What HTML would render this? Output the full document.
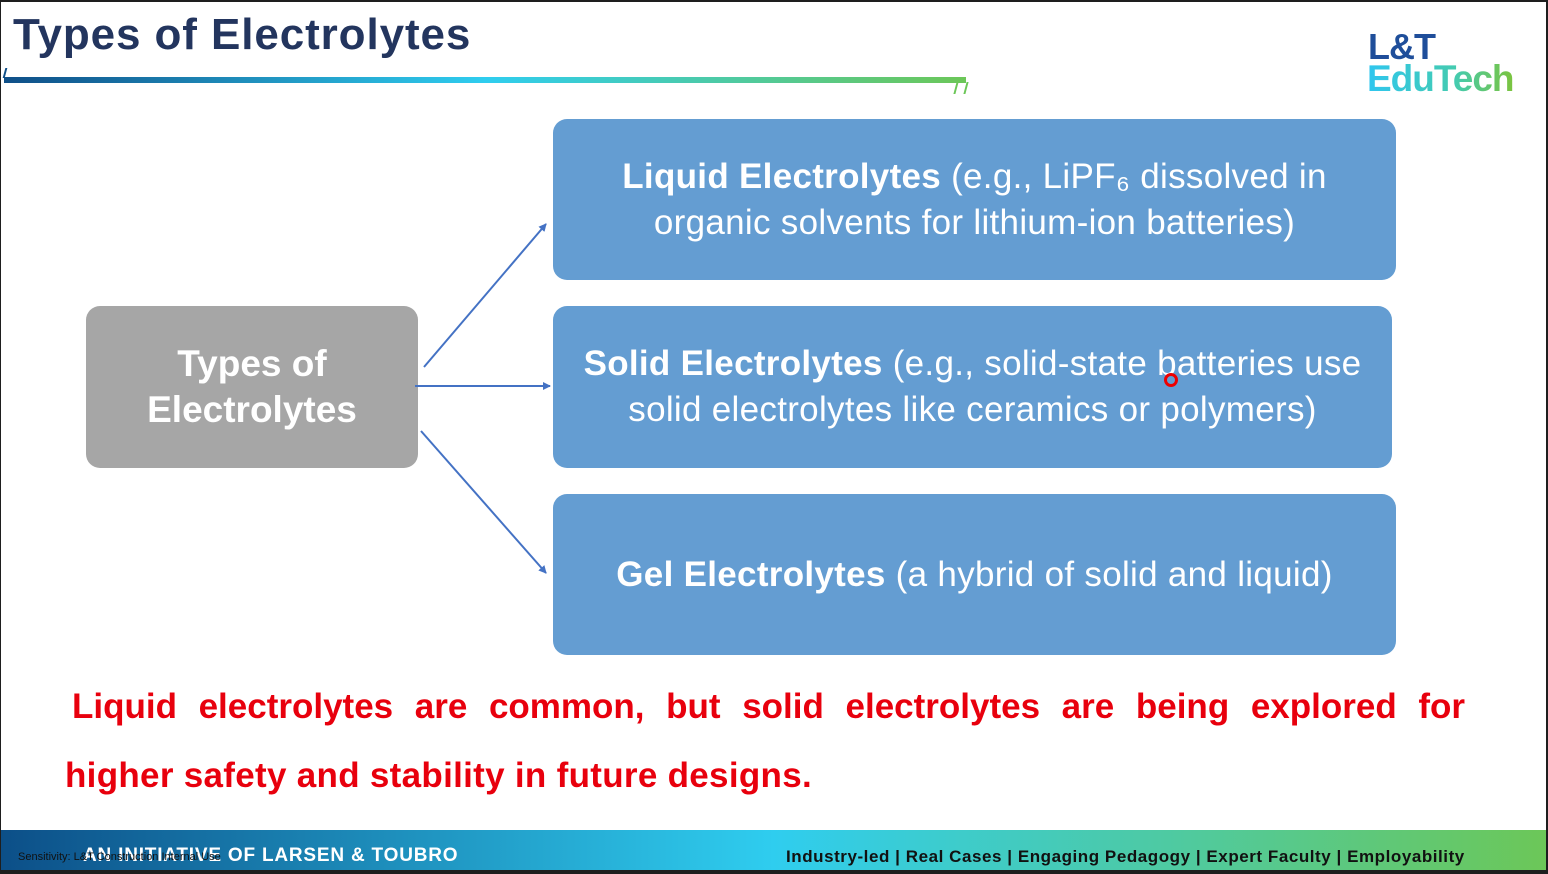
<!DOCTYPE html>
<html><head><style>
body{margin:0;width:1548px;height:874px;background:#1e1e1e;position:relative;overflow:hidden;font-family:"Liberation Sans",sans-serif}
.slide{position:absolute;left:1px;top:2px;width:1545px;height:868px;background:#fff;overflow:hidden}
.t{position:absolute;white-space:nowrap}
.box{position:absolute;background:#649dd2;border-radius:14px;color:#fff;text-align:center;font-size:35px;display:flex;align-items:center;justify-content:center;line-height:46px;letter-spacing:0.3px}
.box b{font-weight:bold}
</style></head><body>
<div class="slide">
<div class="t" style="left:12px;top:8px;font-size:44px;font-weight:bold;color:#23355e;letter-spacing:0.9px">Types of Electrolytes</div>
<div style="position:absolute;left:3px;top:75px;width:962px;height:6px;background:linear-gradient(90deg,#0f4f88,#2fcdef 50%,#6cc758)"></div>
<div style="position:absolute;left:3px;top:66px;width:8px;height:10px;border-left:2px solid #0f4f88;transform:skewX(-15deg)"></div>
<div style="position:absolute;left:954px;top:80px;width:8px;height:12px;border-left:2px solid #6cc758;border-right:2px solid #6cc758;transform:skewX(-15deg)"></div>
<div class="t" style="left:1367px;top:24px;font-size:36px;font-weight:bold;color:#1f4e9a;letter-spacing:-1px">L&amp;T</div>
<div class="t" style="left:1366px;top:56px;font-size:37px;font-weight:bold;letter-spacing:-1px;background:linear-gradient(90deg,#2fc6ef,#44cbb0 60%,#7cc43c);-webkit-background-clip:text;color:transparent">EduTech</div>

<div class="box" style="left:85px;top:304px;width:332px;height:162px;background:#a6a6a6;font-weight:bold;font-size:37px;letter-spacing:0">Types of<br>Electrolytes</div>
<div class="box" style="left:552px;top:117px;width:843px;height:161px"><div><b>Liquid Electrolytes</b> (e.g., LiPF₆ dissolved in<br>organic solvents for lithium-ion batteries)</div></div>
<div class="box" style="left:552px;top:304px;width:839px;height:162px"><div><b>Solid Electrolytes</b> (e.g., solid-state batteries use<br>solid electrolytes like ceramics or polymers)</div></div>
<div class="box" style="left:552px;top:492px;width:843px;height:161px"><div><b>Gel Electrolytes</b> (a hybrid of solid and liquid)</div></div>
<div style="position:absolute;left:1163px;top:371px;width:8px;height:8px;border:3px solid #e00;border-radius:50%"></div>

<svg style="position:absolute;left:0;top:0" width="1545" height="868">
<defs><marker id="a" markerWidth="8" markerHeight="8" refX="7" refY="4" orient="auto" markerUnits="userSpaceOnUse"><path d="M0,0L8,4L0,8z" fill="#4472c4"/></marker></defs>
<g stroke="#4472c4" stroke-width="2" fill="none">
<line x1="423" y1="365" x2="545" y2="222" marker-end="url(#a)"/>
<line x1="414" y1="384" x2="549" y2="384" marker-end="url(#a)"/>
<line x1="420" y1="429" x2="545" y2="571" marker-end="url(#a)"/>
</g></svg>

<div class="t" style="left:71px;top:685px;width:1393px;font-size:35px;font-weight:bold;color:#e8000d;text-align:justify;text-align-last:justify;letter-spacing:0">Liquid electrolytes are common, but solid electrolytes are being explored for</div>
<div class="t" style="left:64px;top:754px;font-size:35px;font-weight:bold;color:#e8000d;letter-spacing:0.3px">higher safety and stability in future designs.</div>

<div style="position:absolute;left:0;top:828px;width:1545px;height:40px;background:linear-gradient(90deg,#0c4f88,#2fcdef 50%,#6cc758)"></div>
<div class="t" style="left:82px;top:843px;font-size:19px;font-weight:bold;color:#fff;letter-spacing:0.8px">AN INITIATIVE OF LARSEN &amp; TOUBRO</div>
<div class="t" style="left:17px;top:849px;font-size:11px;color:#111">Sensitivity: L&amp;T Construction Internal Use</div>
<div class="t" style="left:785px;top:845px;font-size:17px;font-weight:bold;color:#111;letter-spacing:0.55px">Industry-led | Real Cases | Engaging Pedagogy | Expert Faculty | Employability</div>
</div>
</body></html>
